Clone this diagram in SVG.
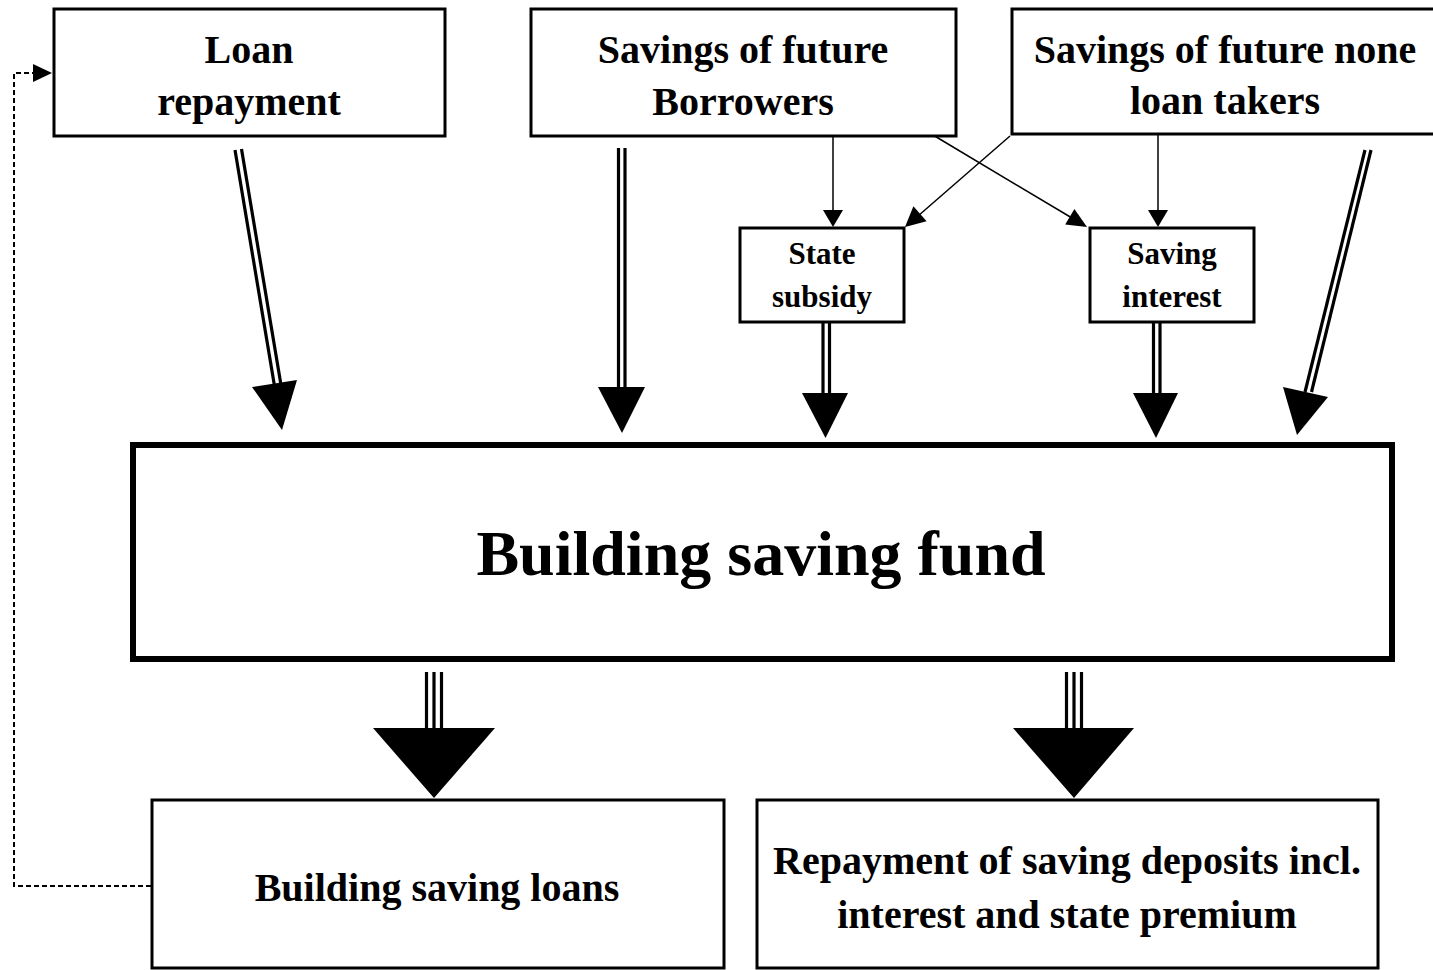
<svg xmlns="http://www.w3.org/2000/svg" width="1433" height="970" viewBox="0 0 1433 970">
<style>
.box{fill:#fff;stroke:#000;stroke-width:3}
.big{fill:#fff;stroke:#000;stroke-width:6}
.t{font-family:"Liberation Serif","Times New Roman",serif;font-weight:bold;fill:#000;text-anchor:middle}
.t40{font-size:40px}
.t31{font-size:31px}
.t64{font-size:64px}
.thin{stroke:#000;stroke-width:1.5;fill:none}
.dbl{stroke:#000;stroke-width:3.2;fill:none}
.dash{stroke:#000;stroke-width:2;fill:none;stroke-dasharray:5 3}
.head{fill:#000;stroke:none}
</style>
<rect width="1433" height="970" fill="#fff"/>

<g id="connectors">
  <!-- dashed feedback -->
  <path class="dash" d="M151,886 H14 V73 H36"/>
  <polygon class="head" points="33,64 52,73 33,82"/>

  <!-- thin arrows -->
  <line class="thin" x1="833" y1="137" x2="833" y2="212"/>
  <polygon class="head" points="823,210 843,210 833,227"/>
  <line class="thin" x1="1010" y1="136" x2="918" y2="216"/>
  <polygon class="head" points="926.6,221.3 913.4,206.3 905,227"/>
  <line class="thin" x1="933" y1="135" x2="1072" y2="218"/>
  <polygon class="head" points="1065.2,224.4 1074.4,209 1087,227"/>
  <line class="thin" x1="1158" y1="135" x2="1158" y2="212"/>
  <polygon class="head" points="1148,210 1168,210 1158,227"/>

  <!-- double line arrows into fund -->
  <line class="dbl" x1="235" y1="150" x2="274.5" y2="386"/>
  <line class="dbl" x1="241.5" y1="149" x2="281" y2="385"/>
  <polygon class="head" points="252,387 297,380 282,430"/>

  <line class="dbl" x1="618.5" y1="148" x2="618.5" y2="390"/>
  <line class="dbl" x1="625" y1="148" x2="625" y2="390"/>
  <polygon class="head" points="598,387 645,387 622,433"/>

  <line class="dbl" x1="823" y1="322" x2="823" y2="395"/>
  <line class="dbl" x1="829.5" y1="322" x2="829.5" y2="395"/>
  <polygon class="head" points="802,393 848,393 825.5,438"/>

  <line class="dbl" x1="1153.5" y1="322" x2="1153.5" y2="395"/>
  <line class="dbl" x1="1160" y1="322" x2="1160" y2="395"/>
  <polygon class="head" points="1133,393 1178,393 1156,438"/>

  <line class="dbl" x1="1365" y1="150" x2="1305" y2="392"/>
  <line class="dbl" x1="1371" y1="150" x2="1311.5" y2="392"/>
  <polygon class="head" points="1283,387 1328,397 1297,435"/>

  <!-- triple line arrows out of fund -->
  <line class="dbl" x1="426.5" y1="672" x2="426.5" y2="730"/>
  <line class="dbl" x1="434" y1="672" x2="434" y2="730"/>
  <line class="dbl" x1="441.5" y1="672" x2="441.5" y2="730"/>
  <polygon class="head" points="373,728 495,728 434,798"/>

  <line class="dbl" x1="1066.5" y1="672" x2="1066.5" y2="730"/>
  <line class="dbl" x1="1074" y1="672" x2="1074" y2="730"/>
  <line class="dbl" x1="1081.5" y1="672" x2="1081.5" y2="730"/>
  <polygon class="head" points="1013,728 1134,728 1074,798"/>
</g>

<g id="loan-repayment">
  <rect class="box" x="54" y="9" width="391" height="127"/>
  <text class="t t40" x="249" y="63">Loan</text>
  <text class="t t40" x="249" y="115">repayment</text>
</g>

<g id="savings-borrowers">
  <rect class="box" x="531" y="9" width="425" height="127"/>
  <text class="t t40" x="743" y="63">Savings of future</text>
  <text class="t t40" x="743" y="115">Borrowers</text>
</g>

<g id="savings-none-loan">
  <rect class="box" x="1012" y="9" width="430" height="125"/>
  <text class="t t40" x="1225" y="63">Savings of future none</text>
  <text class="t t40" x="1225" y="114">loan takers</text>
</g>

<g id="state-subsidy">
  <rect class="box" x="740" y="228" width="164" height="94"/>
  <text class="t t31" x="822" y="264">State</text>
  <text class="t t31" x="822" y="307">subsidy</text>
</g>

<g id="saving-interest">
  <rect class="box" x="1090" y="228" width="164" height="94"/>
  <text class="t t31" x="1172" y="264">Saving</text>
  <text class="t t31" x="1172" y="307">interest</text>
</g>

<g id="building-saving-fund">
  <rect class="big" x="133" y="445" width="1259" height="214"/>
  <text class="t t64" x="761" y="575">Building saving fund</text>
</g>

<g id="building-saving-loans">
  <rect class="box" x="152" y="800" width="572" height="168"/>
  <text class="t t40" x="437" y="901">Building saving loans</text>
</g>

<g id="repayment-deposits">
  <rect class="box" x="757" y="800" width="621" height="168"/>
  <text class="t t40" x="1067" y="874">Repayment of saving deposits incl.</text>
  <text class="t t40" x="1067" y="928">interest and state premium</text>
</g>
</svg>
